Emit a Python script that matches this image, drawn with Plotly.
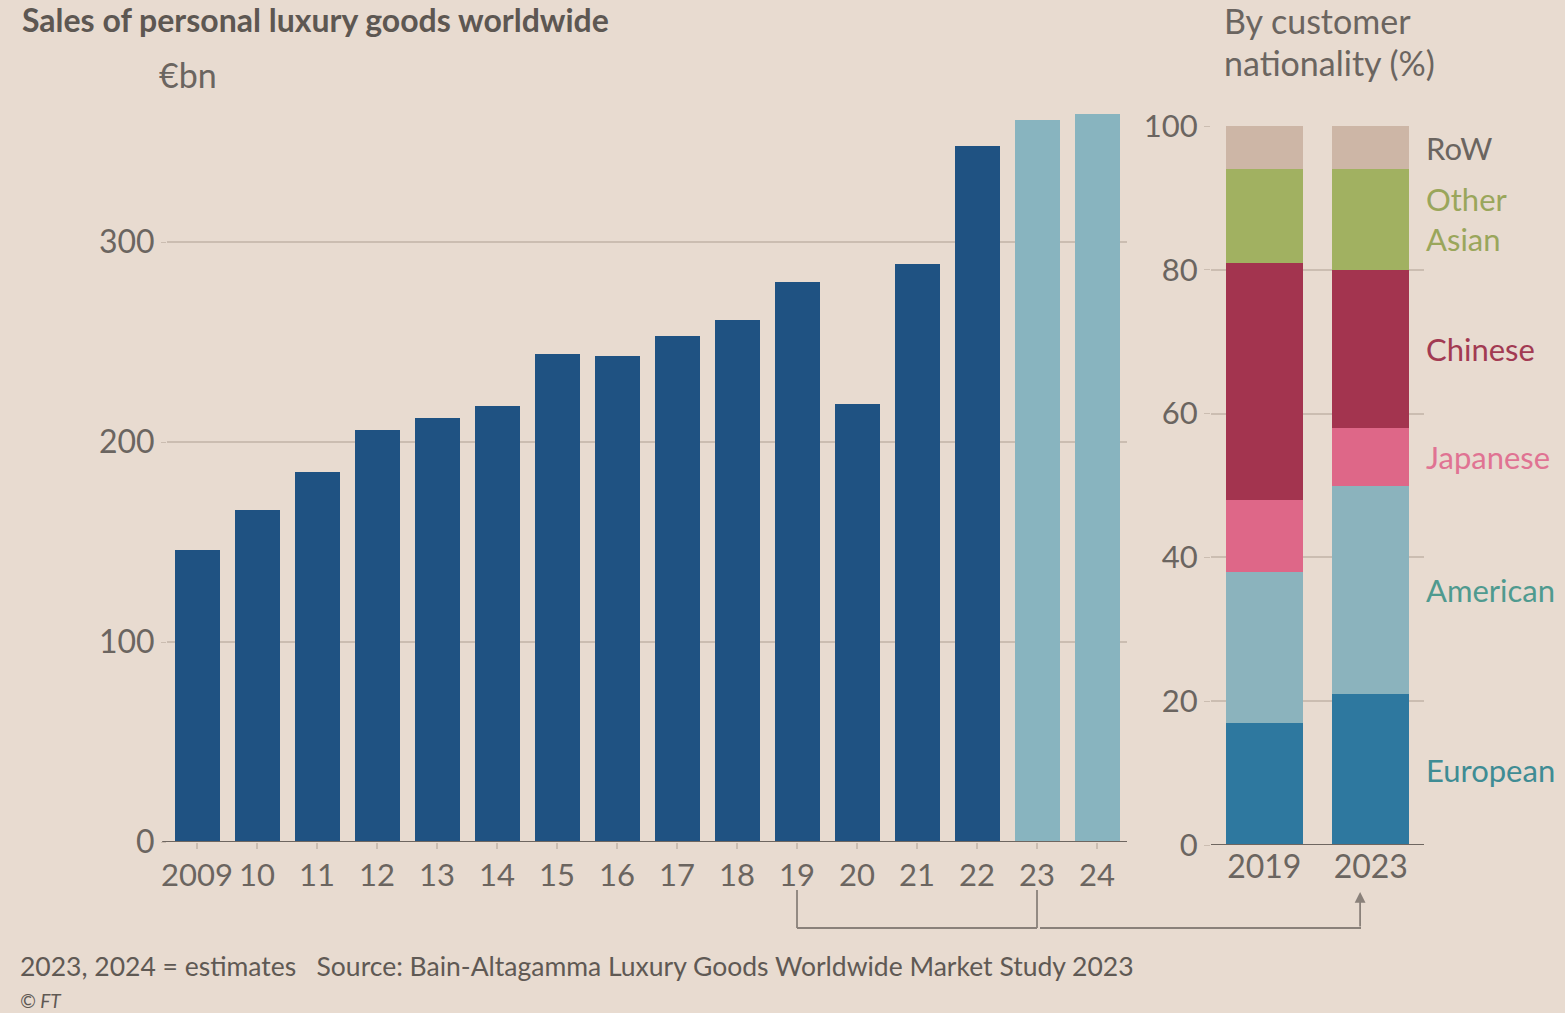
import plotly.graph_objects as go

# ---------------- data ----------------
years = ["2009", "10", "11", "12", "13", "14", "15", "16", "17", "18",
         "19", "20", "21", "22", "23", "24"]
sales = [146, 166, 185, 206, 212, 218, 244, 243, 253, 261,
         280, 219, 289, 348, 361, 364]
estimate_years = ["23", "24"]

share_years = ["2019", "2023"]
nationalities = ["European", "American", "Japanese", "Chinese", "Other Asian", "RoW"]
european = [17, 21]
american = [21, 29]
japanese = [10, 8]
chinese = [33, 22]
other_asian = [13, 14]
row = [6, 6]
shares = [european, american, japanese, chinese, other_asian, row]

left_ticks = [0, 100, 200, 300]
right_ticks = [0, 20, 40, 60, 80, 100]

# ---------------- style ----------------
W, H = 1565, 1013
BG = "#e8dbd0"
DARK = "#1f5282"
LIGHT = "#88b4bf"
GRID = "#cbbdb1"
AXIS = "#6e6660"
TXT = "#6b6560"
FONT = "Lato"

seg_colors = ["#2e789f", "#8bb3bd", "#de6788", "#a3344f", "#a1b161", "#cdb6a6"]
lab_colors = ["#3f8c94", "#4f9a8f", "#e07393", "#a23a52", "#9aa65b", "#6b6560"]
lab_text = ["European", "American", "Japanese", "Chinese", "Other<br>Asian", "RoW"]


def px_x(p):
    return p / W


def px_y(p):
    return 1 - p / H


fig = go.Figure()

bar_colors = [LIGHT if y in estimate_years else DARK for y in years]
fig.add_trace(go.Bar(x=years, y=sales, marker=dict(color=bar_colors, line=dict(width=0)),
                     xaxis="x", yaxis="y", showlegend=False, hoverinfo="x+y"))

for name, vals, col in zip(nationalities, shares, seg_colors):
    fig.add_trace(go.Bar(x=share_years, y=vals, name=name, width=0.72,
                         marker=dict(color=col, line=dict(width=0)),
                         xaxis="x2", yaxis="y2", showlegend=False))

fig.update_layout(
    width=W, height=H,
    paper_bgcolor=BG, plot_bgcolor=BG,
    margin=dict(l=0, r=0, t=0, b=0, autoexpand=False),
    barmode="stack",
    bargap=0.25,
    font=dict(family=FONT, color=TXT, size=30),
    xaxis=dict(domain=[px_x(167), px_x(1127)], type="category",
               showgrid=False, ticks="outside", ticklen=6, tickcolor=GRID,
               tickwidth=1.5, showline=False, zeroline=False,
               tickfont=dict(size=31, color=TXT), fixedrange=True),
    yaxis=dict(domain=[px_y(842), px_y(102)], range=[0, 370],
               tickvals=left_ticks, showgrid=True, gridcolor=GRID, gridwidth=1.5,
               zeroline=False, showline=False, ticks="outside", ticklen=5,
               tickcolor=GRID, tickfont=dict(size=32, color=TXT), fixedrange=True),
    xaxis2=dict(domain=[px_x(1211), px_x(1424)], type="category", anchor="y2",
                showgrid=False, ticks="", showline=False, zeroline=False,
                tickfont=dict(size=32, color=TXT), fixedrange=True),
    yaxis2=dict(domain=[px_y(845), px_y(126)], range=[0, 100], anchor="x2",
                tickvals=right_ticks, showgrid=True, gridcolor=GRID, gridwidth=1.5,
                zeroline=False, showline=False, ticks="outside", ticklen=6,
                tickcolor=GRID, tickfont=dict(size=31, color=TXT), fixedrange=True),
)

shapes = []
# baselines
shapes.append(dict(type="line", xref="x domain", yref="y", x0=-0.005, x1=1.0, y0=0, y1=0,
                   line=dict(color=AXIS, width=2), layer="above"))
shapes.append(dict(type="line", xref="x2 domain", yref="y2", x0=0.0, x1=1.0, y0=0, y1=0,
                   line=dict(color=AXIS, width=2), layer="above"))

# bracket linking 2019 and 2023 to the right panel
i19 = years.index("19")
i23 = years.index("23")
y_top = px_y(890)
y_bot = px_y(928)
line_style = dict(color="#8a817a", width=1.8)
shapes.append(dict(type="line", xref="x", yref="paper", x0=i19, x1=i19, y0=y_top, y1=y_bot, line=line_style))
shapes.append(dict(type="line", xref="x", yref="paper", x0=i23, x1=i23, y0=y_top, y1=y_bot, line=line_style))
shapes.append(dict(type="line", xref="x", yref="paper", x0=i19, x1=i23, y0=y_bot, y1=y_bot, line=line_style))
shapes.append(dict(type="line", xref="paper", yref="paper", x0=px_x(1040), x1=px_x(1361),
                   y0=y_bot, y1=y_bot, line=line_style))
fig.update_layout(shapes=shapes)

annotations = []
# arrow up to the 2023 label of the right panel
annotations.append(dict(xref="x2", yref="paper", x=share_years.index("2023") - 0.1, y=px_y(892),
                        ax=0, ay=36, axref="pixel", ayref="pixel", showarrow=True,
                        arrowhead=2, arrowsize=1.2, arrowwidth=1.8, arrowcolor="#8a817a", text=""))

# segment labels at the 2023 segment midpoints
cum = 0
for vals, t, c in zip(shares, lab_text, lab_colors):
    mid = cum + vals[1] / 2
    cum += vals[1]
    annotations.append(dict(xref="x2 domain", yref="y2", x=1.0, y=mid, xanchor="left",
                            yanchor="middle", showarrow=False,
                            text=t, font=dict(size=31, color=c, family=FONT), align="left"))

annotations += [
    dict(xref="paper", yref="paper", x=px_x(20), y=px_y(19), xanchor="left", yanchor="middle",
         text="<b>Sales of personal luxury goods worldwide</b>", showarrow=False,
         font=dict(size=32, color="#5d5752", family=FONT)),
    dict(xref="paper", yref="paper", x=px_x(157), y=px_y(74), xanchor="left", yanchor="middle",
         text="€bn", showarrow=False, font=dict(size=34, color=TXT, family=FONT)),
    dict(xref="paper", yref="paper", x=px_x(1222), y=px_y(21), xanchor="left", yanchor="middle",
         text="By customer", showarrow=False, align="left",
         font=dict(size=34, color=TXT, family=FONT)),
    dict(xref="paper", yref="paper", x=px_x(1222), y=px_y(63), xanchor="left", yanchor="middle",
         text="nationality (%)", showarrow=False, align="left",
         font=dict(size=34, color=TXT, family=FONT)),
    dict(xref="paper", yref="paper", x=px_x(19), y=px_y(966), xanchor="left", yanchor="middle",
         text="2023, 2024 = estimates   Source: Bain-Altagamma Luxury Goods Worldwide Market Study 2023",
         showarrow=False, font=dict(size=26.5, color="#5f5954", family=FONT), borderpad=0),
    dict(xref="paper", yref="paper", x=px_x(19), y=px_y(1000), xanchor="left", yanchor="middle",
         text="<i>© FT</i>", showarrow=False, font=dict(size=19, color="#5f5954", family=FONT),
         borderpad=0),
]
fig.update_layout(annotations=annotations)

fig.write_html("out.html", config={"displayModeBar": False},
               post_script="document.body.style.margin='0';document.body.style.overflow='hidden';")
